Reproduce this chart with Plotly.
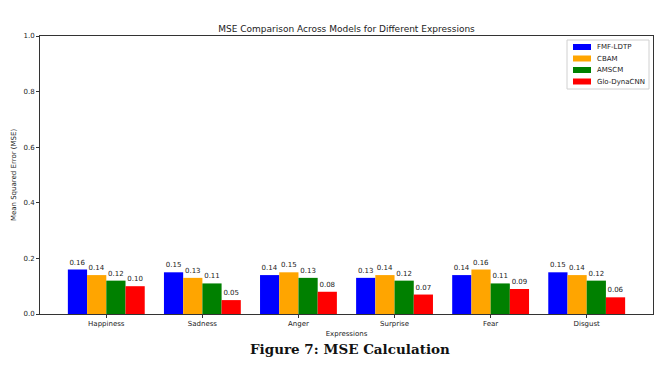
import plotly.graph_objects as go

categories = ["Happiness", "Sadness", "Anger", "Surprise", "Fear", "Disgust"]
models = ["FMF-LDTP", "CBAM", "AMSCM", "Glo-DynaCNN"]
fmf_ldtp = [0.16, 0.15, 0.14, 0.13, 0.14, 0.15]
cbam = [0.14, 0.13, 0.15, 0.14, 0.16, 0.14]
amscm = [0.12, 0.11, 0.13, 0.12, 0.11, 0.12]
glo_dynacnn = [0.10, 0.05, 0.08, 0.07, 0.09, 0.06]
colors = ["#0000ff", "#ffa500", "#008000", "#ff0000"]
y_ticks = [0.0, 0.2, 0.4, 0.6, 0.8, 1.0]

series = [fmf_ldtp, cbam, amscm, glo_dynacnn]
FONT = "DejaVu Sans"

fig = go.Figure()
for name, vals, col in zip(models, series, colors):
    fig.add_trace(go.Bar(
        x=categories, y=vals, name=name,
        marker=dict(color=col, line=dict(width=0)),
        texttemplate="%{y:.2f}", textposition="outside",
        textfont=dict(family=FONT, size=7, color="#222"),
        cliponaxis=False, showlegend=False,
    ))

# the page body has an 8px margin, so the figure sits at (8, 8) in the window
OFF = 8
W, H = 666 - OFF, 365 - OFF
PL, PR, PT, PB = 40, 653, 36, 314  # plot area in window pixels
ml, mr, mt, mb = PL - OFF, 666 - PR, PT - OFF, 365 - PB
pw, ph = PR - PL, PB - PT

def px(x):
    return (x - PL) / pw

def py(y):
    return (PB - y) / ph

shapes = []
annotations = []
# legend box
shapes.append(dict(type="rect", xref="paper", yref="paper",
                   x0=px(567), x1=px(649), y0=py(89), y1=py(40),
                   line=dict(color="#d0d0d0", width=1), fillcolor="white"))
rows = [47, 58.5, 70, 81.5]
for name, col, ry in zip(models, colors, rows):
    shapes.append(dict(type="rect", xref="paper", yref="paper",
                       x0=px(573), x1=px(591), y0=py(ry + 3), y1=py(ry - 3),
                       line=dict(width=0), fillcolor=col))
    annotations.append(dict(xref="paper", yref="paper", x=px(595), y=py(ry),
                            text=name, showarrow=False, xanchor="left", yanchor="middle",
                            font=dict(family=FONT, size=7, color="#222")))
# caption
annotations.append(dict(xref="paper", yref="paper", x=px(350), y=py(349),
                        text="<b>Figure 7: MSE Calculation</b>", showarrow=False,
                        xanchor="center", yanchor="middle",
                        font=dict(family="DejaVu Serif", size=13.5, color="#111")))

fig.update_layout(
    width=W, height=H, template="none",
    margin=dict(l=ml, r=mr, t=mt, b=mb, pad=0),
    paper_bgcolor="white", plot_bgcolor="white",
    barmode="group", bargap=0.2, bargroupgap=0,
    title=dict(text="MSE Comparison Across Models for Different Expressions",
               x=(ml + pw / 2) / W, xanchor="center", y=1 - (29 - OFF) / H, yanchor="middle",
               font=dict(family=FONT, size=9, color="#222")),
    xaxis=dict(range=[-0.69, 5.69], showline=True, linecolor="#333", linewidth=1, mirror=True,
               ticks="outside", ticklen=3, tickcolor="#333", showgrid=False, zeroline=False,
               tickfont=dict(family=FONT, size=7, color="#222"),
               title=dict(text="Expressions", standoff=3, font=dict(family=FONT, size=7, color="#222"))),
    yaxis=dict(range=[0, 1], tickvals=y_ticks, tickformat=".1f", showline=True, linecolor="#333",
               linewidth=1, mirror=True, ticks="outside", ticklen=3, tickcolor="#333",
               showgrid=False, zeroline=False,
               tickfont=dict(family=FONT, size=7, color="#222"),
               title=dict(text="Mean Squared Error (MSE)", standoff=6,
                          font=dict(family=FONT, size=7, color="#222"))),
    shapes=shapes, annotations=annotations,
)

fig.write_html("out.html")
